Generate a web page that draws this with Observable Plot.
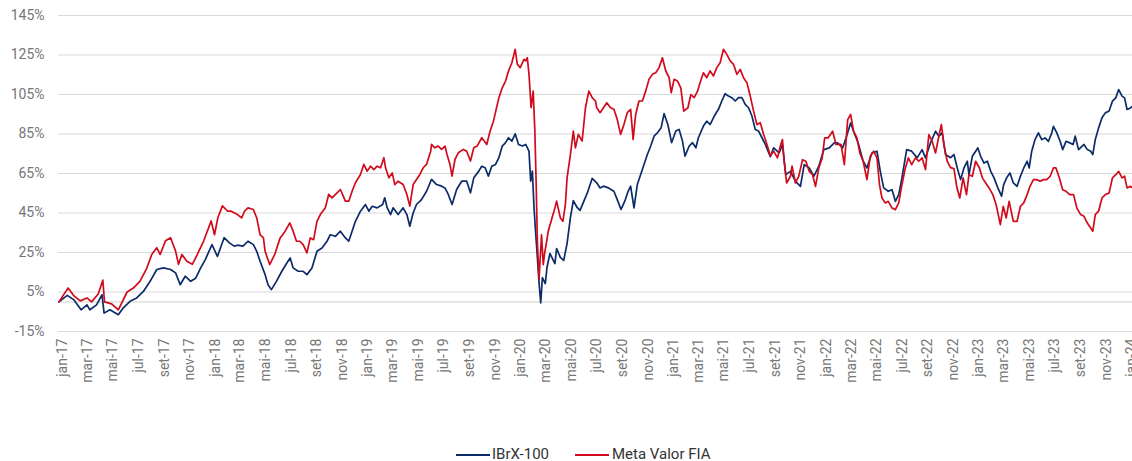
<!DOCTYPE html>
<html>
<head>
<meta charset="utf-8">
<script src="https://cdn.jsdelivr.net/npm/d3@7"></script>
<script src="https://cdn.jsdelivr.net/npm/@observablehq/plot@0.6"></script>
<style>
  html, body { margin: 0; padding: 0; background: #fff; }
  #chart { width: 1132px; }
  #legend { position: relative; height: 13px; width: 1132px; font-family: Roboto, sans-serif; font-size: 15px; color: #333; }
  #legend .sw { position: absolute; top: 6px; height: 2px; width: 34px; }
  #legend .tx { position: absolute; top: -1px; line-height: 15px; white-space: nowrap; }
</style>
</head>
<body>
<div id="chart"></div>
<div id="legend"></div>
<script>
const months = ["jan","fev","mar","abr","mai","jun","jul","ago","set","out","nov","dez"];
const yTicks = [-15, 5, 25, 45, 65, 85, 105, 125, 145];
const gridValues = [-15, 0, 5, 25, 45, 65, 85, 105, 125, 145];
const seriesNames = ["IBrX-100", "Meta Valor FIA"];
const seriesColors = ["#0c2b69", "#d10a1c"];

const ibrxDates = ["2016-12-23","2017-01-12","2017-01-28","2017-02-14","2017-02-28","2017-03-07","2017-03-23","2017-04-05","2017-04-10","2017-04-24","2017-05-14","2017-05-26","2017-06-11","2017-06-27","2017-07-13","2017-07-29","2017-08-14","2017-08-30","2017-09-16","2017-09-28","2017-10-09","2017-10-21","2017-11-03","2017-11-15","2017-11-27","2017-12-08","2017-12-24","2018-01-06","2018-01-22","2018-02-03","2018-02-15","2018-02-23","2018-03-08","2018-03-20","2018-04-02","2018-04-10","2018-04-18","2018-04-30","2018-05-07","2018-05-15","2018-05-27","2018-06-09","2018-06-21","2018-06-29","2018-07-06","2018-07-18","2018-07-30","2018-08-08","2018-08-20","2018-09-01","2018-09-13","2018-09-25","2018-10-03","2018-10-15","2018-10-27","2018-11-08","2018-11-16","2018-11-24","2018-12-02","2018-12-14","2018-12-26","2019-01-03","2019-01-11","2019-01-23","2019-02-05","2019-02-10","2019-02-16","2019-02-24","2019-03-02","2019-03-14","2019-03-26","2019-04-04","2019-04-11","2019-04-19","2019-04-27","2019-05-09","2019-05-21","2019-06-02","2019-06-14","2019-06-26","2019-07-04","2019-07-12","2019-07-21","2019-08-01","2019-08-13","2019-08-25","2019-09-03","2019-09-11","2019-09-23","2019-09-30","2019-10-08","2019-10-16","2019-10-24","2019-11-02","2019-11-10","2019-11-18","2019-11-26","2019-12-03","2019-12-11","2019-12-19","2019-12-27","2020-01-05","2020-01-13","2020-01-21","2020-01-25","2020-01-29","2020-02-02","2020-02-06","2020-02-10","2020-02-14","2020-02-18","2020-02-22","2020-02-29","2020-03-04","2020-03-11","2020-03-23","2020-03-27","2020-04-05","2020-04-13","2020-04-21","2020-04-29","2020-05-06","2020-05-15","2020-05-22","2020-06-08","2020-06-20","2020-07-01","2020-07-09","2020-07-17","2020-07-29","2020-08-11","2020-08-19","2020-08-28","2020-09-06","2020-09-14","2020-09-20","2020-09-28","2020-10-06","2020-10-14","2020-10-22","2020-10-30","2020-11-07","2020-11-15","2020-11-23","2020-12-02","2020-12-09","2020-12-18","2020-12-27","2021-01-06","2021-01-14","2021-01-22","2021-01-28","2021-02-07","2021-02-15","2021-02-23","2021-03-01","2021-03-13","2021-03-21","2021-03-29","2021-04-08","2021-04-18","2021-04-26","2021-05-04","2021-05-12","2021-05-20","2021-05-28","2021-06-05","2021-06-13","2021-06-21","2021-06-29","2021-07-07","2021-07-15","2021-07-23","2021-07-31","2021-08-08","2021-08-20","2021-08-28","2021-09-10","2021-09-18","2021-09-26","2021-10-07","2021-10-19","2021-10-31","2021-11-09","2021-11-21","2021-12-02","2021-12-14","2021-12-26","2022-01-08","2022-01-20","2022-01-28","2022-02-09","2022-02-17","2022-02-28","2022-03-07","2022-03-18","2022-03-30","2022-04-08","2022-04-20","2022-05-02","2022-05-10","2022-05-18","2022-05-29","2022-06-07","2022-06-15","2022-06-23","2022-06-30","2022-07-12","2022-07-24","2022-08-06","2022-08-18","2022-08-26","2022-09-07","2022-09-19","2022-09-27","2022-10-05","2022-10-13","2022-10-25","2022-11-02","2022-11-10","2022-11-18","2022-11-26","2022-12-04","2022-12-08","2022-12-16","2022-12-24","2022-12-29","2023-01-05","2023-01-13","2023-01-21","2023-01-29","2023-02-06","2023-02-15","2023-02-24","2023-03-01","2023-03-08","2023-03-16","2023-03-24","2023-04-02","2023-04-10","2023-04-18","2023-04-26","2023-05-01","2023-05-07","2023-05-15","2023-05-23","2023-05-31","2023-06-08","2023-06-16","2023-06-24","2023-06-28","2023-07-06","2023-07-14","2023-07-20","2023-07-28","2023-08-06","2023-08-14","2023-08-19","2023-08-27","2023-09-09","2023-09-17","2023-09-25","2023-09-30","2023-10-06","2023-10-14","2023-10-22","2023-10-30","2023-11-08","2023-11-16","2023-11-24","2023-12-01","2023-12-09","2023-12-15","2023-12-21","2023-12-29","2024-01-03"];
const ibrxValues = [0,3.3,1,-4,-1.5,-4,-1.5,3.6,-5.7,-4,-6.5,-3,0.3,2,5.3,10.4,16.4,17.2,16.4,14.7,8.7,13,10.4,12,17.2,21.4,29,23,32.5,30,28.2,28.7,28.2,30.7,29,25.6,20.6,13.8,8.7,6.2,10.4,15.5,19.7,22.2,17.2,15.5,15.5,13.8,17.2,25.6,27.3,30.7,34,33.2,35.8,32.4,30.7,35.8,40.8,45.9,49.3,45.9,48.4,47.6,49.3,52.7,47.6,44.2,47.6,44.2,47.6,44.2,38.3,45,49.3,51.8,56,62,59.4,58.6,57.7,54.4,49.3,56.9,61.1,61.1,55.2,62.8,66.2,68.7,67.9,63.7,68.7,69.6,73,78.9,80.6,83.1,81.4,85.1,79.7,78.9,79.7,76.3,61.1,66.2,47.8,34.6,22.5,9.8,-0.5,12.3,9.3,17.4,24.5,19.4,27,22.5,21,29.5,42.7,51.3,47.8,46.3,54.9,62.5,60.3,57.7,58.6,57.7,56,51.8,46.8,51,56,58.6,47.6,59.4,64.5,69.6,74.6,78.9,83.9,85.6,88.2,95.3,89.8,80.6,86.5,87.3,81.4,73.8,78.9,80.6,78,83.1,89,91.5,89.8,94.1,97.5,101.7,105.4,104.2,103.4,101.7,103.4,103.4,100,98.3,94.1,87.3,86.5,83.1,79.7,73.5,78,75.4,79.7,64.4,66.1,61.1,58.5,69.5,67.8,63.6,68.7,77.1,78,80.5,80.5,78,83,90.6,86.4,80.5,71.2,67.8,75.4,76.3,66.1,57.7,56,56.8,50.9,54.3,61.9,77.1,76.3,72.9,77.1,72.9,80.5,86.4,83.9,85.6,74.6,73,74.6,67.8,61.9,67.8,71.2,64.4,73.7,76.3,78,73.7,70.3,71.2,66.1,62.8,57.7,53.5,59.4,62.8,65.3,60.2,58.5,63.6,67.8,71.2,67.8,76.3,82.2,85.6,82.2,83,81.3,85.6,88.9,85.6,81.3,77.1,81.3,80.5,79.7,83.9,77.1,79.7,77.1,76.3,74.6,82.2,88.1,93.2,95.7,96.6,101.6,103.3,107.5,104.2,103.3,97.4,98.2,99.1];

const metaDates = ["2016-12-23","2017-01-14","2017-01-28","2017-02-12","2017-02-28","2017-03-11","2017-03-27","2017-04-07","2017-04-11","2017-04-28","2017-05-14","2017-06-04","2017-06-19","2017-07-05","2017-07-21","2017-08-02","2017-08-14","2017-08-22","2017-09-04","2017-09-16","2017-09-28","2017-10-05","2017-10-13","2017-10-25","2017-11-07","2017-11-19","2017-12-04","2017-12-16","2017-12-22","2017-12-30","2018-01-07","2018-01-18","2018-01-30","2018-02-07","2018-02-23","2018-03-05","2018-03-12","2018-03-20","2018-04-02","2018-04-10","2018-04-18","2018-04-26","2018-04-30","2018-05-11","2018-05-23","2018-06-05","2018-06-17","2018-06-28","2018-07-06","2018-07-14","2018-07-22","2018-07-30","2018-08-08","2018-08-16","2018-08-24","2018-09-01","2018-09-09","2018-09-21","2018-09-29","2018-10-07","2018-10-19","2018-10-27","2018-11-08","2018-11-16","2018-11-24","2018-12-02","2018-12-14","2018-12-22","2018-12-30","2019-01-07","2019-01-15","2019-01-23","2019-01-31","2019-02-08","2019-02-12","2019-02-20","2019-02-28","2019-03-06","2019-03-14","2019-03-26","2019-04-04","2019-04-11","2019-04-19","2019-04-27","2019-05-05","2019-05-13","2019-05-21","2019-05-31","2019-06-02","2019-06-10","2019-06-18","2019-06-26","2019-07-04","2019-07-09","2019-07-16","2019-07-21","2019-07-28","2019-08-05","2019-08-17","2019-08-25","2019-09-03","2019-09-11","2019-09-19","2019-09-30","2019-10-12","2019-10-20","2019-10-28","2019-11-10","2019-11-18","2019-11-26","2019-12-03","2019-12-11","2019-12-19","2019-12-24","2019-12-31","2020-01-09","2020-01-13","2020-01-17","2020-01-21","2020-01-26","2020-01-31","2020-02-04","2020-02-07","2020-02-10","2020-02-14","2020-02-20","2020-02-24","2020-02-28","2020-03-02","2020-03-07","2020-03-16","2020-03-23","2020-03-27","2020-04-05","2020-04-11","2020-04-17","2020-04-21","2020-04-29","2020-05-06","2020-05-11","2020-05-18","2020-05-27","2020-06-04","2020-06-12","2020-06-20","2020-06-28","2020-07-01","2020-07-09","2020-07-17","2020-07-25","2020-08-03","2020-08-11","2020-08-19","2020-08-27","2020-09-04","2020-09-12","2020-09-20","2020-09-26","2020-10-02","2020-10-10","2020-10-18","2020-10-26","2020-11-03","2020-11-11","2020-11-19","2020-11-27","2020-12-05","2020-12-13","2020-12-21","2020-12-26","2021-01-02","2021-01-10","2021-01-18","2021-01-25","2021-02-04","2021-02-11","2021-02-19","2021-02-27","2021-03-05","2021-03-13","2021-03-21","2021-03-29","2021-04-06","2021-04-14","2021-04-22","2021-04-30","2021-05-08","2021-05-16","2021-05-24","2021-06-01","2021-06-09","2021-06-17","2021-06-25","2021-07-03","2021-07-11","2021-07-19","2021-07-27","2021-08-04","2021-08-12","2021-08-20","2021-08-28","2021-09-06","2021-09-14","2021-09-18","2021-09-22","2021-09-28","2021-10-07","2021-10-11","2021-10-19","2021-10-27","2021-11-05","2021-11-13","2021-11-21","2021-11-29","2021-12-06","2021-12-14","2021-12-22","2021-12-28","2022-01-05","2022-01-16","2022-01-24","2022-02-05","2022-02-13","2022-02-21","2022-02-28","2022-03-07","2022-03-15","2022-03-22","2022-03-30","2022-04-08","2022-04-16","2022-04-24","2022-05-02","2022-05-08","2022-05-14","2022-05-22","2022-05-29","2022-06-07","2022-06-15","2022-06-23","2022-06-30","2022-07-08","2022-07-16","2022-07-24","2022-08-02","2022-08-10","2022-08-18","2022-08-26","2022-09-03","2022-09-11","2022-09-19","2022-09-27","2022-10-03","2022-10-09","2022-10-17","2022-10-25","2022-11-02","2022-11-09","2022-11-16","2022-11-24","2022-12-02","2022-12-08","2022-12-16","2022-12-24","2023-01-02","2023-01-09","2023-01-17","2023-01-25","2023-02-03","2023-02-11","2023-02-21","2023-02-28","2023-03-07","2023-03-14","2023-03-24","2023-04-02","2023-04-10","2023-04-18","2023-04-26","2023-05-03","2023-05-11","2023-05-19","2023-05-27","2023-06-04","2023-06-12","2023-06-20","2023-06-28","2023-07-04","2023-07-12","2023-07-20","2023-07-28","2023-08-06","2023-08-15","2023-08-23","2023-09-01","2023-09-09","2023-09-17","2023-09-25","2023-09-30","2023-10-06","2023-10-14","2023-10-22","2023-10-30","2023-11-08","2023-11-16","2023-11-24","2023-12-01","2023-12-09","2023-12-15","2023-12-21","2023-12-29","2024-01-03"];
const metaValues = [0,7,3,0.5,2,0,4,11,0,-1,-4,5,7,10.5,17,24,27.4,24,31,32.5,25.7,19,24,20.6,19,24,30.8,37.5,41,34,42.6,48.6,46,46,44.2,42.5,46,47.6,46.8,42.5,34,32.4,25.6,18.9,24,32.4,35.8,40,35.8,30.7,30.7,29,24.8,32.4,31.5,40.8,44.2,47.6,54.4,52.7,55.2,56.9,51,51,56,60.3,64.5,69.6,66.2,68.7,67,68.7,67.9,73,67.9,62.8,65.3,59.4,61.1,59.4,54.4,48.5,59.4,62,64.5,67.9,69.6,76.3,79.7,78,78.9,77.2,78.9,74.6,69.6,63.7,72.1,75.5,77.2,76.3,71.3,78,78.9,83.1,79.7,86.5,91.5,103.4,108.4,111.8,116.9,121.1,127.9,120.3,118.6,122.8,122,123.6,115.2,98.3,106.7,86.5,61.1,30.7,11.5,34,18.9,25.6,29,35.8,42.5,47.6,51,42.5,40.8,49.3,62.8,74.6,86.5,78,84.8,81.4,98.3,106.7,103.4,101.7,98.3,95.8,98.3,100.8,98.3,97.5,92.4,84.8,89.8,95.8,97.5,82.2,94.9,101.7,101.7,106.7,112.7,115.2,116,118.6,123.6,116.9,113.5,105.9,112.7,111.8,108.4,96.6,98.3,105,103.4,106.7,111,116,113.5,116.9,114.4,118.6,121.1,127.9,125.3,122,120.3,115.2,117.7,113.5,111,104.2,96.6,89.8,90.7,84.8,79.7,74,76.3,72.9,79.7,82.2,71.2,60.2,63.6,68.7,60.2,63.6,72,71.2,66.1,64.4,58.5,67.8,72.9,83,83,86.4,79.7,79.7,69.5,92.3,94.9,86.4,83,75.4,71.2,61.9,73.7,76.3,72.9,59.4,52.6,50.1,50.9,47.5,46.7,50.1,58.5,67,72.9,69.5,72.9,71.2,72.9,67,84.7,81.3,75.4,83.9,89.8,79.7,71.2,68,67.5,58,52.6,62.8,54.3,64.4,63.6,71.2,67.8,62.8,60.2,57.7,54.3,49.2,39.1,48.4,42.5,50.9,40.8,40.8,48.4,50.1,54.3,58.5,61.9,61.9,61.1,61.9,61.9,63.6,67.8,67.8,62.8,56.8,56,54.3,54.3,47.5,44.2,43.3,39.9,37.4,35.7,44.2,45.9,52.6,54.3,55.1,62.8,64.4,66.1,62.8,63.6,57.7,58.5,57.7];

const toRows = (dates, values) => dates.map((d, i) => ({date: new Date(d + "T00:00:00Z"), value: values[i]}));
const ibrx = toRows(ibrxDates, ibrxValues);
const meta = toRows(metaDates, metaValues);

const xTicks = d3.utcMonth.every(2).range(new Date(Date.UTC(2017, 0, 1)), new Date(Date.UTC(2024, 0, 2)));

const chart = Plot.plot({
  width: 1132,
  height: 448,
  marginLeft: 58,
  marginRight: 0,
  marginTop: 15,
  marginBottom: 117,
  style: {fontFamily: "Roboto, sans-serif", fontSize: "14px", color: "#767676", background: "#fff", overflow: "visible"},
  x: {
    type: "utc",
    domain: [new Date("2016-12-22T00:00:00Z"), new Date("2024-01-03T00:00:00Z")],
    ticks: xTicks,
    tickFormat: d => `${months[d.getUTCMonth()]}-${String(d.getUTCFullYear()).slice(2)}`,
    tickRotate: -90,
    tickSize: 0,
    tickPadding: 7,
    label: null
  },
  y: {
    domain: [-15, 145],
    ticks: yTicks,
    tickFormat: d => `${d}%`,
    tickSize: 0,
    tickPadding: 14,
    label: null
  },
  marks: [
    Plot.ruleY(gridValues, {stroke: "#d9d9d9", strokeWidth: 1.2}),
    Plot.line(ibrx, {x: "date", y: "value", stroke: seriesColors[0], strokeWidth: 1.7}),
    Plot.line(meta, {x: "date", y: "value", stroke: seriesColors[1], strokeWidth: 1.7})
  ]
});
document.getElementById("chart").appendChild(chart);

const legend = document.getElementById("legend");
const legendPos = [{sw: 456, tx: 492}, {sw: 575, tx: 612}];
seriesNames.forEach((name, i) => {
  const sw = document.createElement("div");
  sw.className = "sw";
  sw.style.left = legendPos[i].sw + "px";
  sw.style.background = seriesColors[i];
  legend.appendChild(sw);
  const tx = document.createElement("span");
  tx.className = "tx";
  tx.style.left = legendPos[i].tx + "px";
  tx.textContent = name;
  legend.appendChild(tx);
});
</script>
</body>
</html>
